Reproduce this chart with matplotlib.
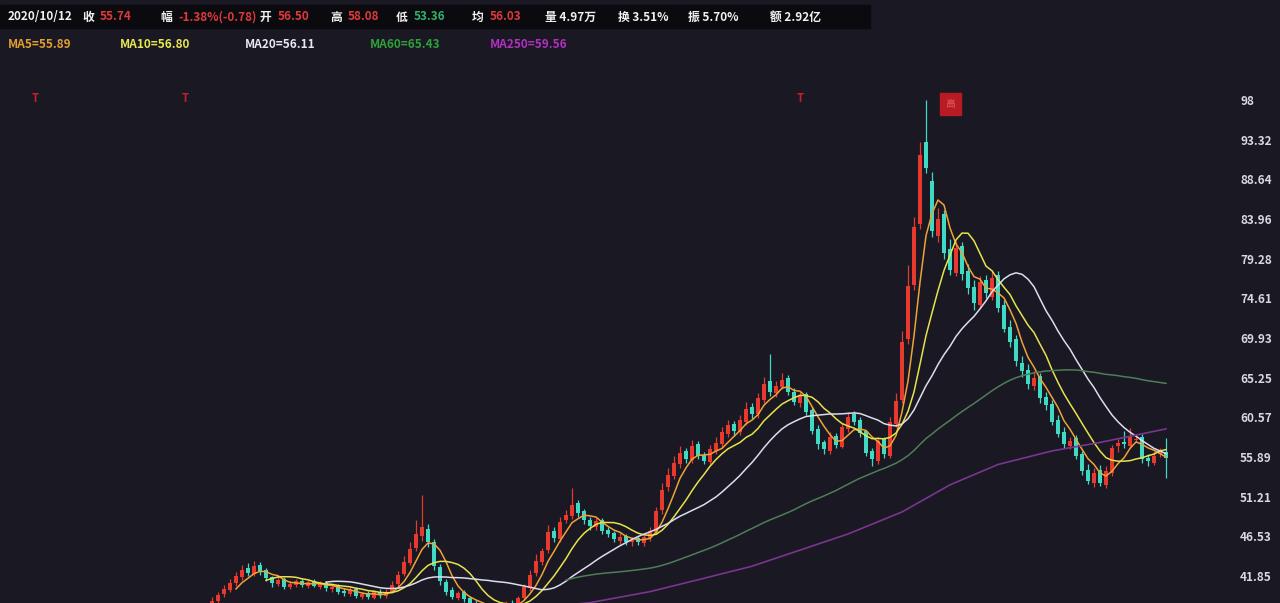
import numpy as np
import pandas as pd
import matplotlib
matplotlib.use("Agg")
import matplotlib.pyplot as plt
from matplotlib.patches import Rectangle

plt.rcParams['font.family'] = ['Noto Sans CJK SC', 'DejaVu Sans']

# daily candles (oldest -> newest)
opens = [38.5, 38.9, 39.7, 40.2, 41.0, 41.7, 42.8, 42.1, 43.1, 42.5,
         41.7, 40.9, 41.5, 40.5, 40.8, 41.3, 40.7, 41.2, 40.6, 41.0,
         40.3, 40.7, 40.1, 39.7, 40.3, 39.4, 39.8, 39.3, 40.0, 39.5,
         40.0, 40.9, 42.1, 43.4, 45.1, 46.6, 47.4, 45.9, 42.9, 41.1,
         40.2, 39.2, 39.9, 39.2, 38.7, 38.3, 37.8, 38.4, 37.7, 38.0,
         38.7, 38.5, 39.3, 40.4, 42.2, 43.5, 44.9, 47.2, 46.2, 48.5,
         48.9, 50.4, 49.5, 48.5, 47.6, 48.4, 47.3, 46.9, 46.0, 46.6,
         45.8, 46.3, 45.7, 46.3, 47.0, 49.6, 52.3, 53.6, 55.0, 56.6,
         55.5, 57.4, 56.1, 55.3, 56.6, 57.4, 58.6, 59.8, 58.8, 60.0,
         61.8, 60.9, 62.6, 64.8, 63.4, 64.1, 65.2, 63.6, 62.2, 63.3,
         61.4, 59.2, 57.6, 56.6, 58.4, 57.1, 59.2, 60.9, 60.2, 58.9,
         56.6, 55.4, 58.0, 56.0, 59.8, 62.6, 69.8, 76.2, 83.4, 93.0,
         88.5, 82.0, 84.5, 80.4, 77.6, 80.8, 77.8, 75.9, 73.8, 76.8,
         74.8, 77.4, 73.8, 71.2, 69.8, 67.0, 66.2, 64.2, 65.4, 63.0,
         62.1, 60.2, 58.8, 57.2, 58.1, 56.2, 54.4, 52.8, 54.3, 52.6,
         54.0, 57.2, 57.6, 57.2, 57.9, 58.2, 55.8, 55.2, 56.2, 56.5]
closes = [38.9, 39.6, 40.3, 41.0, 41.8, 42.6, 42.2, 43.0, 42.4, 41.6,
          41.0, 41.4, 40.6, 40.9, 41.2, 40.8, 41.1, 40.7, 40.9, 40.4,
          40.6, 40.0, 39.8, 40.2, 39.5, 39.7, 39.4, 39.9, 39.6, 40.0,
          40.8, 42.0, 43.5, 45.0, 46.8, 47.6, 45.8, 43.0, 41.2, 40.0,
          39.4, 39.8, 39.1, 38.6, 38.2, 37.9, 38.3, 37.8, 38.1, 38.6,
          38.4, 39.2, 40.5, 42.0, 43.6, 44.8, 47.0, 46.3, 48.2, 49.0,
          50.2, 49.3, 48.4, 47.8, 48.3, 47.2, 46.8, 46.2, 46.5, 45.9,
          46.1, 45.8, 46.4, 47.2, 49.5, 52.0, 53.8, 55.2, 56.4, 55.6,
          57.2, 56.0, 55.4, 56.8, 57.5, 58.8, 59.6, 58.9, 60.2, 61.5,
          61.0, 62.8, 64.5, 63.6, 64.2, 65.0, 63.5, 62.4, 63.1, 61.2,
          59.0, 57.4, 56.8, 58.2, 57.3, 59.4, 60.6, 60.0, 58.7, 56.4,
          55.6, 57.8, 56.2, 60.0, 62.5, 69.5, 76.0, 83.0, 91.5, 90.0,
          82.5, 84.0, 80.0, 78.0, 80.5, 77.5, 75.8, 74.0, 76.5, 75.2,
          77.0, 73.5, 71.0, 69.5, 67.2, 66.0, 64.5, 65.2, 62.8, 62.0,
          60.0, 58.6, 57.4, 57.8, 56.0, 54.2, 53.0, 54.0, 52.8, 54.2,
          57.0, 57.5, 57.4, 58.4, 58.0, 55.6, 55.4, 56.0, 56.5, 55.74]
highs = [39.4, 40.0, 40.8, 41.5, 42.3, 43.2, 43.4, 43.6, 43.5, 42.8,
         41.9, 41.8, 41.7, 41.2, 41.5, 41.6, 41.4, 41.5, 41.2, 41.3,
         40.9, 40.9, 40.4, 40.5, 40.6, 40.0, 40.1, 40.2, 40.3, 40.3,
         41.2, 42.4, 44.2, 45.8, 48.5, 51.4, 48.0, 46.2, 43.3, 41.5,
         40.6, 40.1, 40.2, 39.5, 39.0, 38.6, 38.7, 38.6, 38.4, 38.9,
         39.0, 39.5, 40.9, 42.6, 44.4, 45.2, 47.9, 47.6, 48.8, 49.6,
         52.2, 50.8, 49.8, 48.8, 48.7, 48.7, 47.6, 47.2, 46.9, 46.8,
         46.5, 46.6, 46.7, 47.6, 50.0, 52.8, 54.6, 56.0, 57.2, 57.0,
         57.9, 57.8, 56.5, 57.3, 58.2, 59.4, 60.3, 60.1, 60.8, 62.4,
         62.3, 63.4, 65.3, 68.0, 64.8, 65.8, 65.6, 64.0, 63.7, 63.5,
         61.8, 59.6, 57.9, 58.8, 58.7, 59.9, 61.2, 61.3, 60.6, 59.1,
         57.0, 58.3, 58.3, 60.6, 63.4, 70.8, 78.5, 84.2, 93.0, 98.0,
         89.5, 85.3, 85.0, 81.6, 81.4, 81.2, 78.6, 76.8, 77.2, 77.3,
         78.0, 77.8, 74.4, 72.0, 70.3, 67.8, 66.9, 66.0, 65.8, 63.5,
         62.6, 60.8, 59.4, 58.3, 58.5, 56.6, 55.0, 54.6, 54.9, 54.8,
         57.3, 58.0, 58.9, 59.3, 58.6, 58.6, 56.2, 56.6, 57.0, 58.08]
lows = [38.2, 38.6, 39.4, 39.9, 40.7, 41.4, 41.8, 41.9, 42.0, 41.3,
        40.6, 40.7, 40.3, 40.3, 40.6, 40.5, 40.4, 40.5, 40.3, 40.1,
        40.0, 39.7, 39.5, 39.5, 39.2, 39.1, 39.1, 39.1, 39.3, 39.3,
        39.8, 40.6, 41.8, 43.1, 44.8, 46.0, 45.3, 42.6, 40.8, 39.6,
        39.1, 39.0, 38.8, 38.3, 37.8, 37.6, 37.5, 37.4, 37.4, 37.8,
        38.0, 38.2, 39.0, 40.1, 41.8, 43.2, 44.6, 45.8, 45.9, 48.1,
        48.6, 48.8, 48.0, 47.3, 47.3, 46.8, 46.4, 45.8, 45.6, 45.5,
        45.4, 45.5, 45.4, 46.0, 46.8, 49.2, 51.9, 53.3, 54.6, 55.2,
        55.2, 55.6, 55.0, 55.0, 56.2, 57.0, 58.2, 58.4, 58.5, 59.7,
        60.4, 60.5, 62.2, 63.1, 63.0, 63.9, 63.2, 62.0, 61.8, 60.8,
        58.6, 56.8, 56.2, 56.2, 57.0, 56.9, 58.8, 59.6, 58.2, 56.0,
        54.8, 55.1, 55.8, 55.8, 59.4, 62.2, 69.2, 75.6, 82.8, 89.4,
        81.8, 81.2, 79.2, 77.3, 77.2, 76.8, 75.1, 73.2, 73.5, 74.6,
        74.4, 73.0, 70.6, 68.9, 66.6, 65.3, 63.9, 63.8, 62.3, 61.4,
        59.7, 58.2, 57.0, 56.8, 55.7, 53.8, 52.7, 52.4, 52.5, 52.2,
        53.7, 56.5, 56.9, 56.9, 57.6, 55.2, 54.8, 54.9, 55.9, 53.36]

# MA250 (history before the window is not shown)
ma250_idx = [50, 63, 73, 81, 90, 98, 106, 115, 123, 131, 140, 148, 159]
ma250_val = [37.8, 38.7, 40.0, 41.4, 43.0, 44.9, 46.8, 49.4, 52.6, 55.0, 56.6, 57.6, 59.2]

y_ticks = [98, 93.32, 88.64, 83.96, 79.28, 74.61, 69.93, 65.25, 60.57, 55.89, 51.21, 46.53, 41.85]

bg = '#191823'
up_c = '#e8392e'
down_c = '#3fd9c4'

fig = plt.figure(figsize=(12.8, 6.03), dpi=100, facecolor=bg)
ax = fig.add_axes([10 / 1280, 0, 1212 / 1280, 541 / 603])
ax.set_facecolor(bg)

x = np.arange(len(closes))
o = np.array(opens)
c = np.array(closes)
colors = [up_c if cc >= oo else down_c for oo, cc in zip(o, c)]

ax.vlines(x, lows, highs, colors=colors, linewidth=0.9, zorder=2)
body_low = np.minimum(o, c)
body_h = np.maximum(np.abs(c - o), 0.12)
ax.bar(x, body_h, bottom=body_low, width=0.62, color=colors, linewidth=0, zorder=3)

s = pd.Series(closes)
ax.plot(x, s.rolling(5).mean(), color='#f0a236', lw=1.1, zorder=4)
ax.plot(x, s.rolling(10).mean(), color='#e6e34c', lw=1.1, zorder=4)
ax.plot(x, s.rolling(20).mean(), color='#dcdcee', lw=1.1, zorder=4)
ax.plot(x, s.rolling(60).mean(), color='#4f7d58', lw=1.1, zorder=4)
ax.plot(ma250_idx, ma250_val, color='#7a3590', lw=1.2, zorder=4)

ax.set_xlim(-33.67, 168.33)
ax.set_ylim(38.66, 102.48)
ax.set_xticks([])
ax.yaxis.tick_right()
ax.set_yticks(y_ticks)
ax.set_yticklabels([f"{t:g}" if t == 98 else f"{t:.2f}" for t in y_ticks])
ax.tick_params(axis='y', length=0, pad=13, labelsize=8.5, labelcolor='#d8d8e0')
for lab in ax.get_yticklabels():
    lab.set_fontweight('bold')
for sp in ax.spines.values():
    sp.set_visible(False)
ax.axvline(168.3, color='#24232e', lw=1)

# event markers along the top
for mx in [-29.5, -4.5, 98]:
    ax.text(mx, 98.2, "T", color='#c8202a', fontsize=8, fontweight='bold',
            ha='center', va='center')
ax.add_patch(Rectangle((121.3, 96.2), 3.6, 2.6, color='#b81c22', zorder=5))
ax.text(123.1, 97.5, "高", color='#e06060', fontsize=7, ha='center', va='center', zorder=6)

# header line
fig.patches.append(Rectangle((0, 1 - 28 / 603), 870 / 1280, 23 / 603,
                             transform=fig.transFigure, color='#0b0b0f', zorder=0))
hy = 1 - 17 / 603
white = '#f0f0f0'
red = '#e0393a'
green = '#2fb36a'
header = [(8, "2020/10/12", white), (82, "收", white), (100, "55.74", red),
          (160, "幅", white), (178, "-1.38%(-0.78)", red), (260, "开", white),
          (278, "56.50", red), (330, "高", white), (348, "58.08", red),
          (396, "低", white), (414, "53.36", green), (472, "均", white),
          (490, "56.03", red), (545, "量 4.97万", white), (618, "换 3.51%", white),
          (688, "振 5.70%", white), (770, "额 2.92亿", white)]
for px, txt, col in header:
    fig.text(px / 1280, hy, txt, color=col, fontsize=8.5, fontweight='bold',
             ha='left', va='center')

ly = 1 - 45 / 603
legend = [(8, "MA5=55.89", '#e0a030'), (120, "MA10=56.80", '#e8e650'),
          (245, "MA20=56.11", '#e8e8f0'), (370, "MA60=65.43", '#2fa03a'),
          (490, "MA250=59.56", '#b030c0')]
for px, txt, col in legend:
    fig.text(px / 1280, ly, txt, color=col, fontsize=8.5, fontweight='bold',
             ha='left', va='center')

fig.savefig("out.png", dpi=100, facecolor=bg)
